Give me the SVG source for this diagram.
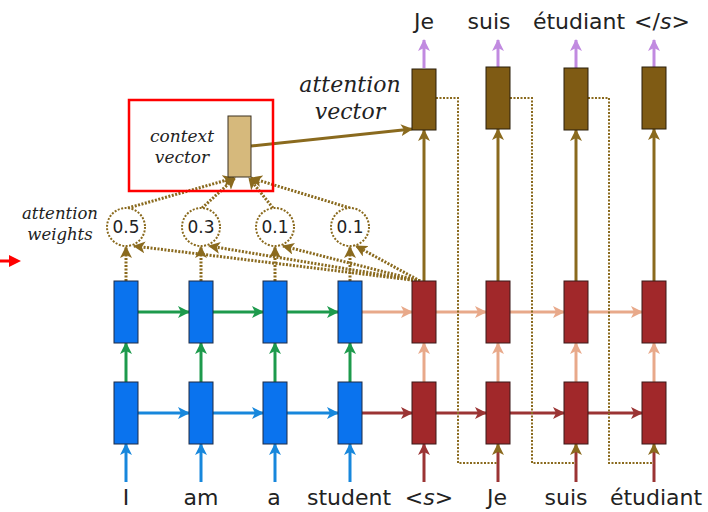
<svg xmlns="http://www.w3.org/2000/svg" width="708" height="512" viewBox="0 0 708 512">
  <style>
    .enc { fill: #0a73ee; stroke: #1c2b45; stroke-width: 1; }
    .dec { fill: #a1282a; stroke: #3a1818; stroke-width: 1; }
    .att { fill: #7f5b14; stroke: #2a1f0a; stroke-width: 1; }
    .ctx { fill: #d6b97c; stroke: #3a3020; stroke-width: 1; }
    .a { fill: none; stroke-width: 3; }
    .blue { stroke: #1787dc; }
    .green { stroke: #1d9a4c; }
    .dred { stroke: #9b3434; }
    .salmon { stroke: #e8a98a; }
    .olive { stroke: #8a6a1e; }
    .purple { stroke: #c18ae0; }
    .dot { fill: none; stroke: #8a6a1e; stroke-width: 3; stroke-dasharray: 2 1.5; }
    .fb { fill: none; stroke: #8a6a1e; stroke-width: 2; stroke-dasharray: 2 1.5; }
    .w { fill: #ffffff; stroke: #8a6a1e; stroke-width: 2; stroke-dasharray: 2 1.5; }
    .word { font-family: "DejaVu Sans", sans-serif; font-size: 22px; fill: #222; text-anchor: middle; }
    .num { font-family: "DejaVu Sans", sans-serif; font-size: 17px; fill: #222; text-anchor: middle; }
    .note { font-family: "DejaVu Serif", serif; font-style: italic; fill: #222; text-anchor: middle; }
  </style>
  <defs>
    <marker id="hBlue" viewBox="0 0 12 12" refX="11" refY="6" markerWidth="12" markerHeight="12" markerUnits="userSpaceOnUse" orient="auto"><path d="M0,0 L12,6 L0,12 L3,6 z" fill="#1787dc"/></marker>
    <marker id="hGreen" viewBox="0 0 12 12" refX="11" refY="6" markerWidth="12" markerHeight="12" markerUnits="userSpaceOnUse" orient="auto"><path d="M0,0 L12,6 L0,12 L3,6 z" fill="#1d9a4c"/></marker>
    <marker id="hDred" viewBox="0 0 12 12" refX="11" refY="6" markerWidth="12" markerHeight="12" markerUnits="userSpaceOnUse" orient="auto"><path d="M0,0 L12,6 L0,12 L3,6 z" fill="#9b3434"/></marker>
    <marker id="hSalmon" viewBox="0 0 12 12" refX="11" refY="6" markerWidth="12" markerHeight="12" markerUnits="userSpaceOnUse" orient="auto"><path d="M0,0 L12,6 L0,12 L3,6 z" fill="#e8a98a"/></marker>
    <marker id="hOlive" viewBox="0 0 12 12" refX="11" refY="6" markerWidth="12" markerHeight="12" markerUnits="userSpaceOnUse" orient="auto"><path d="M0,0 L12,6 L0,12 L3,6 z" fill="#8a6a1e"/></marker>
    <marker id="hPurple" viewBox="0 0 12 12" refX="11" refY="6" markerWidth="12" markerHeight="12" markerUnits="userSpaceOnUse" orient="auto"><path d="M0,0 L12,6 L0,12 L3,6 z" fill="#c18ae0"/></marker>
  </defs>

  <rect width="708" height="512" fill="#ffffff"/>

  <!-- connectors -->
  <g id="connectors">
    <!-- encoder inputs -->
    <line class="a blue" x1="126" y1="482" x2="126" y2="444" marker-end="url(#hBlue)"/>
    <line class="a blue" x1="201" y1="482" x2="201" y2="444" marker-end="url(#hBlue)"/>
    <line class="a blue" x1="275" y1="482" x2="275" y2="444" marker-end="url(#hBlue)"/>
    <line class="a blue" x1="350" y1="482" x2="350" y2="444" marker-end="url(#hBlue)"/>
    <!-- encoder layer 1 recurrence -->
    <line class="a blue" x1="138" y1="413" x2="189" y2="413" marker-end="url(#hBlue)"/>
    <line class="a blue" x1="213" y1="413" x2="263" y2="413" marker-end="url(#hBlue)"/>
    <line class="a blue" x1="287" y1="413" x2="338" y2="413" marker-end="url(#hBlue)"/>
    <!-- encoder layer 1 -> layer 2 -->
    <line class="a green" x1="126" y1="382" x2="126" y2="343" marker-end="url(#hGreen)"/>
    <line class="a green" x1="201" y1="382" x2="201" y2="343" marker-end="url(#hGreen)"/>
    <line class="a green" x1="275" y1="382" x2="275" y2="343" marker-end="url(#hGreen)"/>
    <line class="a green" x1="350" y1="382" x2="350" y2="343" marker-end="url(#hGreen)"/>
    <!-- encoder layer 2 recurrence -->
    <line class="a green" x1="138" y1="312" x2="189" y2="312" marker-end="url(#hGreen)"/>
    <line class="a green" x1="213" y1="312" x2="263" y2="312" marker-end="url(#hGreen)"/>
    <line class="a green" x1="287" y1="312" x2="338" y2="312" marker-end="url(#hGreen)"/>

    <!-- decoder inputs -->
    <line class="a dred" x1="424" y1="482" x2="424" y2="444" marker-end="url(#hDred)"/>
    <line class="a dred" x1="498" y1="482" x2="498" y2="448"/>
    <line class="a olive" x1="498" y1="452" x2="498" y2="444" marker-end="url(#hOlive)"/>
    <line class="a dred" x1="576" y1="482" x2="576" y2="448"/>
    <line class="a olive" x1="576" y1="452" x2="576" y2="444" marker-end="url(#hOlive)"/>
    <line class="a dred" x1="654" y1="482" x2="654" y2="448"/>
    <line class="a olive" x1="654" y1="452" x2="654" y2="444" marker-end="url(#hOlive)"/>
    <!-- decoder layer 1 recurrence -->
    <line class="a dred" x1="362" y1="413" x2="412" y2="413" marker-end="url(#hDred)"/>
    <line class="a dred" x1="436" y1="413" x2="486" y2="413" marker-end="url(#hDred)"/>
    <line class="a dred" x1="510" y1="413" x2="564" y2="413" marker-end="url(#hDred)"/>
    <line class="a dred" x1="588" y1="413" x2="642" y2="413" marker-end="url(#hDred)"/>
    <!-- decoder layer 1 -> layer 2 -->
    <line class="a salmon" x1="424" y1="382" x2="424" y2="343" marker-end="url(#hSalmon)"/>
    <line class="a salmon" x1="498" y1="382" x2="498" y2="343" marker-end="url(#hSalmon)"/>
    <line class="a salmon" x1="576" y1="382" x2="576" y2="343" marker-end="url(#hSalmon)"/>
    <line class="a salmon" x1="654" y1="382" x2="654" y2="343" marker-end="url(#hSalmon)"/>
    <!-- decoder layer 2 recurrence -->
    <line class="a salmon" x1="362" y1="312" x2="412" y2="312" marker-end="url(#hSalmon)"/>
    <line class="a salmon" x1="436" y1="312" x2="486" y2="312" marker-end="url(#hSalmon)"/>
    <line class="a salmon" x1="510" y1="312" x2="564" y2="312" marker-end="url(#hSalmon)"/>
    <line class="a salmon" x1="588" y1="312" x2="642" y2="312" marker-end="url(#hSalmon)"/>

    <!-- decoder top state -> attention vector -->
    <line class="a olive" x1="424" y1="281" x2="424" y2="130" marker-end="url(#hOlive)"/>
    <line class="a olive" x1="498" y1="281" x2="498" y2="129" marker-end="url(#hOlive)"/>
    <line class="a olive" x1="576" y1="281" x2="576" y2="130" marker-end="url(#hOlive)"/>
    <line class="a olive" x1="654" y1="281" x2="654" y2="129" marker-end="url(#hOlive)"/>
    <!-- context vector -> attention vector -->
    <line class="a olive" x1="251" y1="146" x2="412" y2="129" marker-end="url(#hOlive)"/>
    <!-- attention vector -> output -->
    <line class="a purple" x1="424" y1="68" x2="424" y2="40" marker-end="url(#hPurple)"/>
    <line class="a purple" x1="498" y1="67" x2="498" y2="40" marker-end="url(#hPurple)"/>
    <line class="a purple" x1="576" y1="68" x2="576" y2="40" marker-end="url(#hPurple)"/>
    <line class="a purple" x1="654" y1="67" x2="654" y2="40" marker-end="url(#hPurple)"/>

    <!-- input feeding -->
    <path class="fb" d="M436,98 H458 V463 H498"/>
    <path class="fb" d="M510,98 H532 V463 H576"/>
    <path class="fb" d="M588,98 H609 V463 H654"/>

    <!-- scores: decoder state and encoder states -> weights -->
    <line class="dot" x1="420" y1="281" x2="134" y2="246" marker-end="url(#hOlive)"/>
    <line class="dot" x1="420" y1="281" x2="209" y2="246" marker-end="url(#hOlive)"/>
    <line class="dot" x1="420" y1="281" x2="283" y2="246" marker-end="url(#hOlive)"/>
    <line class="dot" x1="420" y1="281" x2="356" y2="246" marker-end="url(#hOlive)"/>
    <line class="dot" x1="126" y1="281" x2="126" y2="247" marker-end="url(#hOlive)"/>
    <line class="dot" x1="201" y1="281" x2="201" y2="247" marker-end="url(#hOlive)"/>
    <line class="dot" x1="275" y1="281" x2="275" y2="247" marker-end="url(#hOlive)"/>
    <line class="dot" x1="350" y1="281" x2="350" y2="247" marker-end="url(#hOlive)"/>
    <!-- weights -> context vector -->
    <line class="dot" x1="128" y1="208" x2="234" y2="178" marker-end="url(#hOlive)"/>
    <line class="dot" x1="202" y1="208" x2="235" y2="178" marker-end="url(#hOlive)"/>
    <line class="dot" x1="273" y1="208" x2="249" y2="178" marker-end="url(#hOlive)"/>
    <line class="dot" x1="350" y1="208" x2="251" y2="178" marker-end="url(#hOlive)"/>
  </g>

  <!-- encoder layer 1 -->
  <g id="enc1-0"><rect class="enc" x="114" y="382" width="24" height="62"/></g>
  <g id="enc1-1"><rect class="enc" x="189" y="382" width="24" height="62"/></g>
  <g id="enc1-2"><rect class="enc" x="263" y="382" width="24" height="62"/></g>
  <g id="enc1-3"><rect class="enc" x="338" y="382" width="24" height="62"/></g>
  <!-- encoder layer 2 -->
  <g id="enc2-0"><rect class="enc" x="114" y="281" width="24" height="62"/></g>
  <g id="enc2-1"><rect class="enc" x="189" y="281" width="24" height="62"/></g>
  <g id="enc2-2"><rect class="enc" x="263" y="281" width="24" height="62"/></g>
  <g id="enc2-3"><rect class="enc" x="338" y="281" width="24" height="62"/></g>
  <!-- decoder layer 1 -->
  <g id="dec1-0"><rect class="dec" x="412" y="382" width="24" height="62"/></g>
  <g id="dec1-1"><rect class="dec" x="486" y="382" width="24" height="62"/></g>
  <g id="dec1-2"><rect class="dec" x="564" y="382" width="24" height="62"/></g>
  <g id="dec1-3"><rect class="dec" x="642" y="382" width="24" height="62"/></g>
  <!-- decoder layer 2 -->
  <g id="dec2-0"><rect class="dec" x="412" y="281" width="24" height="62"/></g>
  <g id="dec2-1"><rect class="dec" x="486" y="281" width="24" height="62"/></g>
  <g id="dec2-2"><rect class="dec" x="564" y="281" width="24" height="62"/></g>
  <g id="dec2-3"><rect class="dec" x="642" y="281" width="24" height="62"/></g>
  <!-- attention vectors -->
  <g id="att-0"><rect class="att" x="412" y="69" width="24" height="61"/></g>
  <g id="att-1"><rect class="att" x="486" y="67" width="24" height="62"/></g>
  <g id="att-2"><rect class="att" x="564" y="68" width="24" height="62"/></g>
  <g id="att-3"><rect class="att" x="642" y="67" width="24" height="62"/></g>

  <!-- attention weights -->
  <g id="w-0"><ellipse class="w" cx="126" cy="227" rx="19" ry="19"/><text class="num" x="126" y="233">0.5</text></g>
  <g id="w-1"><ellipse class="w" cx="201" cy="227" rx="19" ry="19"/><text class="num" x="201" y="233">0.3</text></g>
  <g id="w-2"><ellipse class="w" cx="275" cy="227" rx="19" ry="19"/><text class="num" x="275" y="233">0.1</text></g>
  <g id="w-3"><ellipse class="w" cx="350" cy="227" rx="19" ry="19"/><text class="num" x="350" y="233">0.1</text></g>

  <!-- context vector -->
  <g id="context">
    <rect x="129" y="100" width="144" height="91" fill="none" stroke="#ff0000" stroke-width="2.5"/>
    <rect class="ctx" x="228" y="116" width="23" height="61"/>
    <text class="note" x="182" y="142" font-size="17">context</text>
    <text class="note" x="182" y="163" font-size="17">vector</text>
  </g>

  <!-- labels -->
  <g id="labels">
    <text class="note" x="60" y="219" font-size="16.5">attention</text>
    <text class="note" x="60" y="240" font-size="16.5">weights</text>
    <text class="note" x="350" y="92" font-size="22">attention</text>
    <text class="note" x="350" y="119" font-size="22">vector</text>
  </g>

  <!-- target words -->
  <g id="outputs">
    <text class="word" x="424" y="29">Je</text>
    <text class="word" x="489" y="29">suis</text>
    <text class="word" x="579" y="29">étudiant</text>
    <text class="word" x="662" y="29">&lt;/<tspan font-style="italic">s</tspan>&gt;</text>
  </g>

  <!-- source and decoder input words -->
  <g id="inputs">
    <text class="word" x="126" y="505">I</text>
    <text class="word" x="201" y="505">am</text>
    <text class="word" x="274" y="505">a</text>
    <text class="word" x="349" y="505">student</text>
    <text class="word" x="429" y="505">&lt;<tspan font-style="italic">s</tspan>&gt;</text>
    <text class="word" x="497" y="505">Je</text>
    <text class="word" x="566" y="505">suis</text>
    <text class="word" x="656" y="505">étudiant</text>
  </g>

  <!-- pointer -->
  <g id="pointer">
    <line x1="0" y1="261" x2="12" y2="261" stroke="#ff0000" stroke-width="3"/>
    <polygon points="9,255 21,261 9,267" fill="#ff0000"/>
  </g>
</svg>
